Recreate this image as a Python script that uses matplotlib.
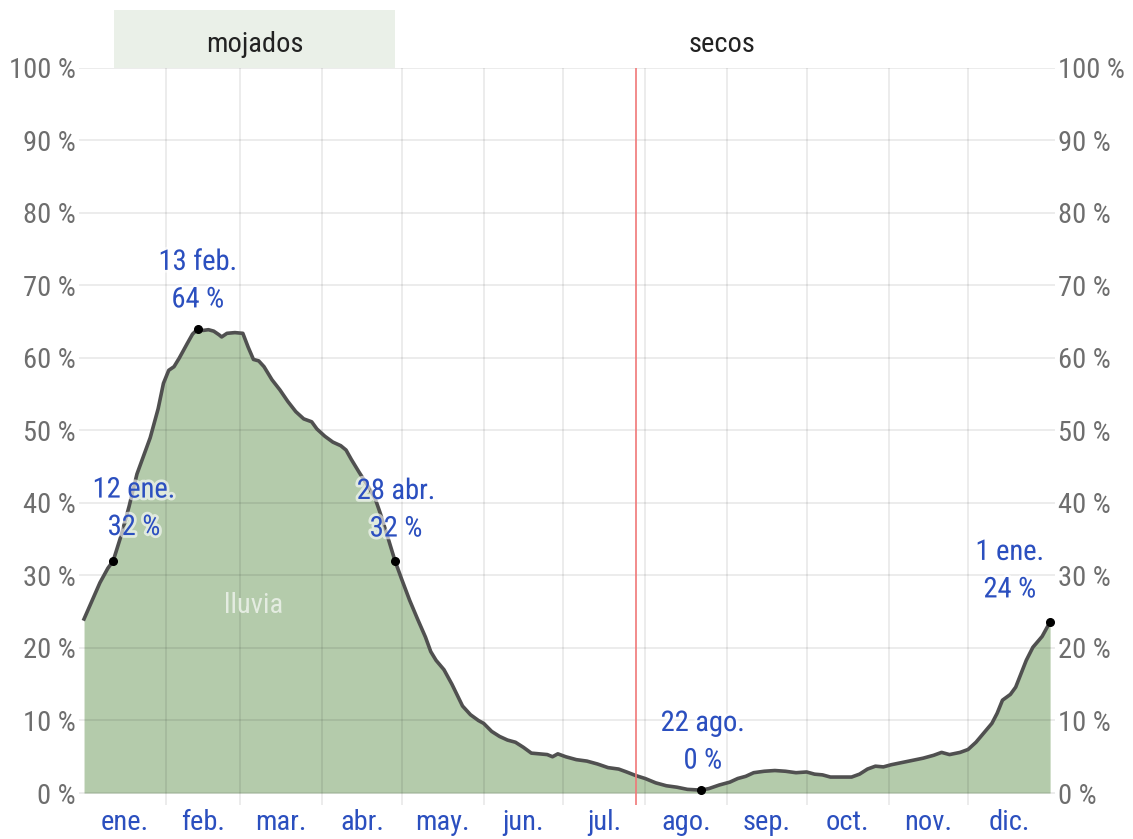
import matplotlib
matplotlib.use("Agg")
import matplotlib.pyplot as plt
import matplotlib.patheffects as pe
from matplotlib import font_manager
from matplotlib.patches import Rectangle

# probability of a wet day (% ), by day of year
days = [0, 3, 6, 9, 11, 14, 17, 20, 23, 25, 28, 30, 32, 34, 36, 39, 41, 43, 45, 47,
        49, 51, 52, 54, 57, 60, 62, 64, 66, 68, 71, 74, 77, 80, 83, 86, 88, 91, 94, 97,
        99, 101, 104, 107, 110, 112, 115, 117.5, 120, 123, 126, 129, 131, 133, 136, 139,
        143, 146, 149, 151, 154, 157, 160, 163, 166, 169, 172, 175, 177, 179, 182, 186,
        190, 194, 198, 202, 205, 208.5, 212, 216, 220, 224, 228, 233, 236, 240, 244, 247,
        250, 253, 257, 261, 265, 269, 273, 276, 279, 282, 286, 290, 293, 296, 299, 302,
        305, 309, 313, 317, 321, 324, 327, 331, 334, 337, 340, 343, 345, 347, 350, 352,
        356, 358.5, 362, 365]
rain = [24.0, 26.5, 29.0, 31.0, 32.0, 35.5, 39.5, 44.0, 47.0, 49.0, 53.0, 56.5, 58.3,
        58.8, 60.0, 62.0, 63.3, 64.0, 63.8, 63.9, 63.7, 63.2, 62.9, 63.4, 63.5, 63.4,
        61.5, 59.8, 59.6, 58.8, 57.0, 55.6, 54.0, 52.6, 51.6, 51.2, 50.2, 49.2, 48.4,
        47.9, 47.3, 46.0, 44.2, 42.5, 40.6, 38.5, 35.0, 32.0, 29.5, 26.6, 24.0, 21.5,
        19.5, 18.3, 17.0, 15.0, 12.0, 10.8, 10.0, 9.6, 8.5, 7.8, 7.3, 7.0, 6.3, 5.5,
        5.4, 5.3, 5.0, 5.4, 5.0, 4.6, 4.4, 4.0, 3.5, 3.3, 2.9, 2.4, 2.0, 1.4, 1.0, 0.8,
        0.5, 0.4, 0.6, 1.1, 1.5, 2.0, 2.3, 2.8, 3.0, 3.1, 3.0, 2.8, 2.9, 2.6, 2.5, 2.2,
        2.2, 2.2, 2.6, 3.3, 3.7, 3.6, 3.9, 4.2, 4.5, 4.8, 5.2, 5.6, 5.3, 5.6, 6.0, 7.0,
        8.3, 9.6, 11.0, 12.8, 13.6, 14.6, 18.3, 20.1, 21.6, 23.6]

month_starts = [0, 31, 59, 90, 120, 151, 181, 212, 243, 273, 304, 334, 365]
month_names = ["ene.", "feb.", "mar.", "abr.", "may.", "jun.",
               "jul.", "ago.", "sep.", "oct.", "nov.", "dic."]

# marked points: (day, value, label)
marks = [(11, 32.0, "12 ene.\n32 %"), (43, 64.0, "13 feb.\n64 %"),
         (117.5, 32.0, "28 abr.\n32 %"), (233, 0.4, "22 ago.\n0 %"),
         (365, 23.6, "1 ene.\n24 %")]
label_pos = [(18.9, 39.2), (43, 70.6), (117.9, 39.0), (233.8, 7.0), (349.8, 30.6)]

wet_season = (11.3, 117.5)
dry_season = (117.5, 365)
today = 208.5

# pick a narrow font if one is around
names = {f.name for f in font_manager.fontManager.ttflist}
font = "DejaVu Sans"
for cand in ["Liberation Sans Narrow", "Roboto Condensed", "Open Sans Condensed", "Noto Sans"]:
    if cand in names:
        font = cand
        break
plt.rcParams["font.family"] = [font, "DejaVu Sans"]
fs = 20.5

fig = plt.figure(figsize=(11.33, 8.39), dpi=100)
ax = fig.add_axes([0.0695, 0.041, 0.862, 0.878])
ax.set_xlim(-2, 367)
ax.set_ylim(-1.6, 100)

ax.fill_between(days, 0, rain, color="#b4cbab", lw=0, zorder=1)
ax.plot(days, rain, color="#505050", lw=2.6, zorder=4, solid_joinstyle="round")

# grid on top of the area
grid_kw = dict(color="black", alpha=0.09, lw=1.2, zorder=3)
for v in range(0, 101, 10):
    ax.plot([-2, 367], [v, v], **grid_kw)
for d in month_starts[1:-1]:
    ax.plot([d, d], [-1.6, 100], **grid_kw)

ax.axvline(today, color="#f07878", lw=1.2, zorder=5)

# seasons band above the plot
ax.add_patch(Rectangle((wet_season[0], 100), wet_season[1] - wet_season[0], 8,
                       facecolor="#eaf0e8", edgecolor="none", clip_on=False))
ax.text(sum(wet_season) / 2, 103.3, "mojados", ha="center", va="center",
        fontsize=fs, color="#222222")
ax.text(sum(dry_season) / 2, 103.3, "secos", ha="center", va="center",
        fontsize=fs, color="#222222")

ax.text(64, 25.8, "lluvia", ha="center", va="center", fontsize=fs, color="#e4ece1")

halo = [pe.withStroke(linewidth=4, foreground="white", alpha=0.6)]
for (d, v, lab), (lx, ly) in zip(marks, label_pos):
    ax.plot(d, v, "o", color="black", ms=5.5, zorder=6, clip_on=False)
    ax.text(lx, ly, lab, ha="center", va="center", fontsize=fs, color="#2b4fbf",
            linespacing=1.5, zorder=7, path_effects=halo)

centers = [(month_starts[i] + month_starts[i + 1]) / 2 for i in range(12)]
ax.set_xticks(centers)
ax.set_xticklabels(month_names, color="#2b4fbf", fontsize=fs)
yt = list(range(0, 101, 10))
ax.set_yticks(yt)
ax.set_yticklabels([f"{v} %" for v in yt], color="#6e6e6e", fontsize=fs)
ax.tick_params(axis="both", length=0)
ax.tick_params(axis="y", labelright=True, pad=2)
ax.tick_params(axis="x", pad=3)
for s in ax.spines.values():
    s.set_visible(False)

fig.savefig("out.png", dpi=100)
